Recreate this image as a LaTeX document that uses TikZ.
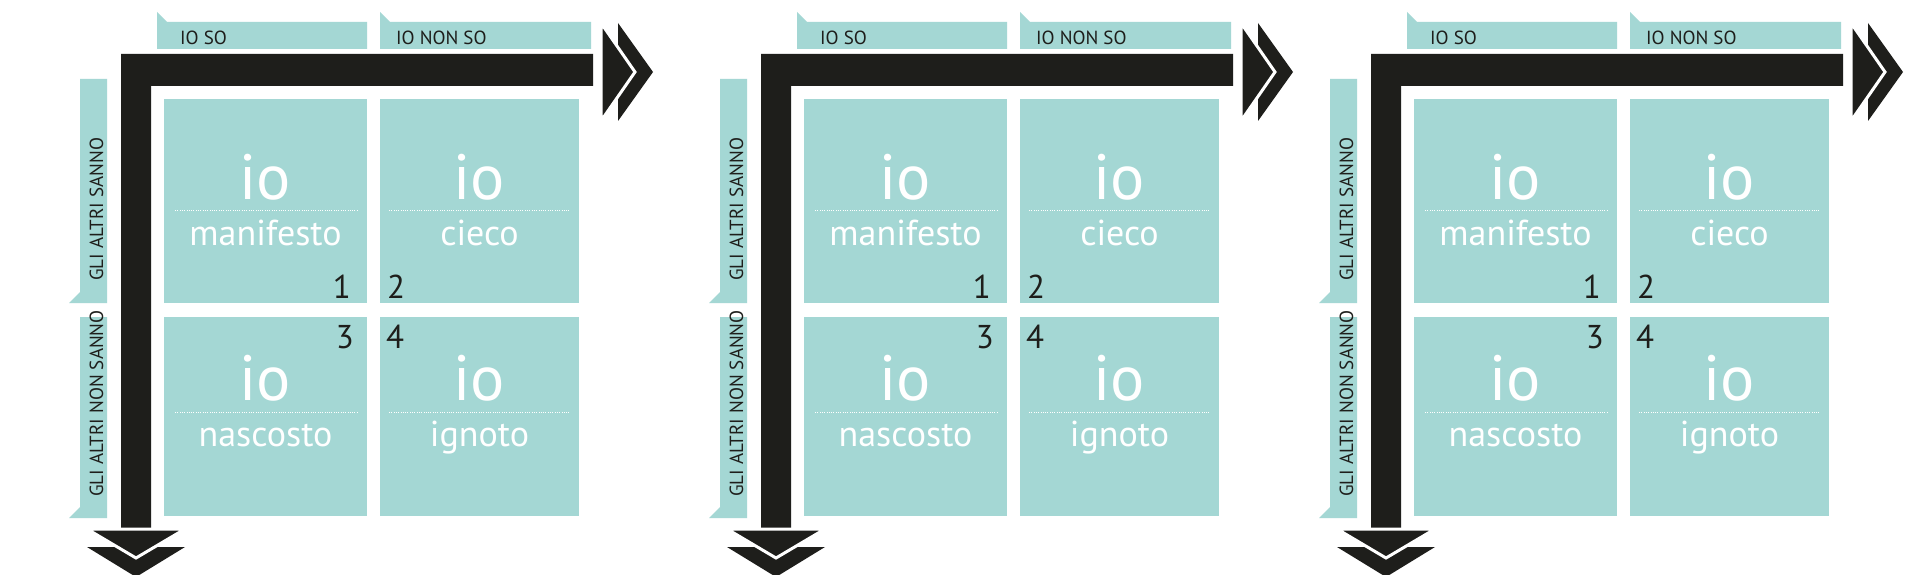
\documentclass[tikz,border=0pt]{standalone}
\usepackage{fontspec}
\setmainfont{PT Sans}
\definecolor{tealbox}{HTML}{A4D7D4}
\definecolor{ink}{HTML}{1E1E1B}
\tikzset{
  box/.style={fill=tealbox, inner sep=0pt, outer sep=0pt, draw=none},
  lbl/.style={font=\fontsize{19}{19}\selectfont, text=ink, inner sep=0pt},
  bigio/.style={font=\fontsize{64}{64}\selectfont, text=white, inner sep=0pt, anchor=base},
  word/.style={font=\fontsize{36}{36}\selectfont, text=white, inner sep=0pt, anchor=base},
  num/.style={font=\fontsize{33}{33}\selectfont, text=ink, inner sep=0pt},
  dotline/.style={white, line width=0.8pt, dash pattern=on 1pt off 1.3pt},
  tabfill/.style={fill=tealbox},
  barfill/.style={fill=ink},
  gaptri/.style={fill=ink, draw=white, line width=3pt},
}
\newcommand\drawpanel[2]{%
\begin{scope}[xshift=#1pt]
  % header tabs
  \fill[tabfill] (157,12) -- (167,22) -- (367,22) -- (367,49) -- (157,49) -- cycle;
  \fill[tabfill] (380,12) -- (390,22) -- (591,22) -- (591,49) -- (380,49) -- cycle;
  \node[lbl, anchor=base west] (#2h1) at (180,45) {IO SO};
  \node[lbl, anchor=base west] (#2h2) at (396,45) {IO NON SO};
  % side tabs
  \fill[tabfill] (80,79) -- (107,79) -- (107,303) -- (69,303) -- (80,292) -- cycle;
  \fill[tabfill] (80,317) -- (107,317) -- (107,518) -- (69,518) -- (80,507) -- cycle;
  \node[lbl, rotate=90, anchor=base west] (#2s1) at (103,281) {GLI ALTRI SANNO};
  \node[lbl, rotate=90, anchor=base west] (#2s2) at (103,497) {GLI ALTRI NON SANNO};
  % L-shaped bar
  \fill[barfill] (121,54) -- (593,54) -- (593,86) -- (151,86) -- (151,528) -- (121,528) -- cycle;
  % right arrow heads
  \fill[barfill] (618,23) -- (653,72) -- (618,121) -- cycle;
  \filldraw[gaptri] (601,23) -- (635,72) -- (601,121) -- cycle;
  % down arrow heads
  \fill[barfill] (87,547) -- (185,547) -- (136,577) -- cycle;
  \filldraw[gaptri] (87,529) -- (185,529) -- (136,558) -- cycle;
  % boxes
  \node[box, minimum width=203pt, minimum height=204pt] (#2b1) at (265.5,201) {};
  \node[box, minimum width=199pt, minimum height=204pt] (#2b2) at (479.5,201) {};
  \node[box, minimum width=203pt, minimum height=199pt] (#2b3) at (265.5,416.5) {};
  \node[box, minimum width=199pt, minimum height=199pt] (#2b4) at (479.5,416.5) {};
  % texts
  \node[bigio] (#2i1) at (265.5,199) {io};
  \node[bigio] (#2i2) at (479.5,199) {io};
  \node[bigio] (#2i3) at (265.5,400) {io};
  \node[bigio] (#2i4) at (479.5,400) {io};
  \draw[dotline] (175,210) -- (357,210);
  \draw[dotline] (389,210) -- (570,210);
  \draw[dotline] (175,412) -- (357,412);
  \draw[dotline] (389,412) -- (570,412);
  \node[word] (#2w1) at (265.5,245) {manifesto};
  \node[word] (#2w2) at (479.5,245) {cieco};
  \node[word] (#2w3) at (265.5,446) {nascosto};
  \node[word] (#2w4) at (479.5,446) {ignoto};
  \node[num, anchor=base east] (#2n1) at (351,298) {1};
  \node[num, anchor=base west] (#2n2) at (387,298) {2};
  \node[num, anchor=base east] (#2n3) at (354,348) {3};
  \node[num, anchor=base west] (#2n4) at (386,348) {4};
\end{scope}}
\begin{document}
\begin{tikzpicture}[x=1pt, y=-1pt]
  \clip (0,0) rectangle (1920,575);
  \fill[white] (0,0) rectangle (1920,575);
  \drawpanel{0}{pa}
  \drawpanel{640}{pb}
  \drawpanel{1250}{pc}
\end{tikzpicture}
\end{document}
